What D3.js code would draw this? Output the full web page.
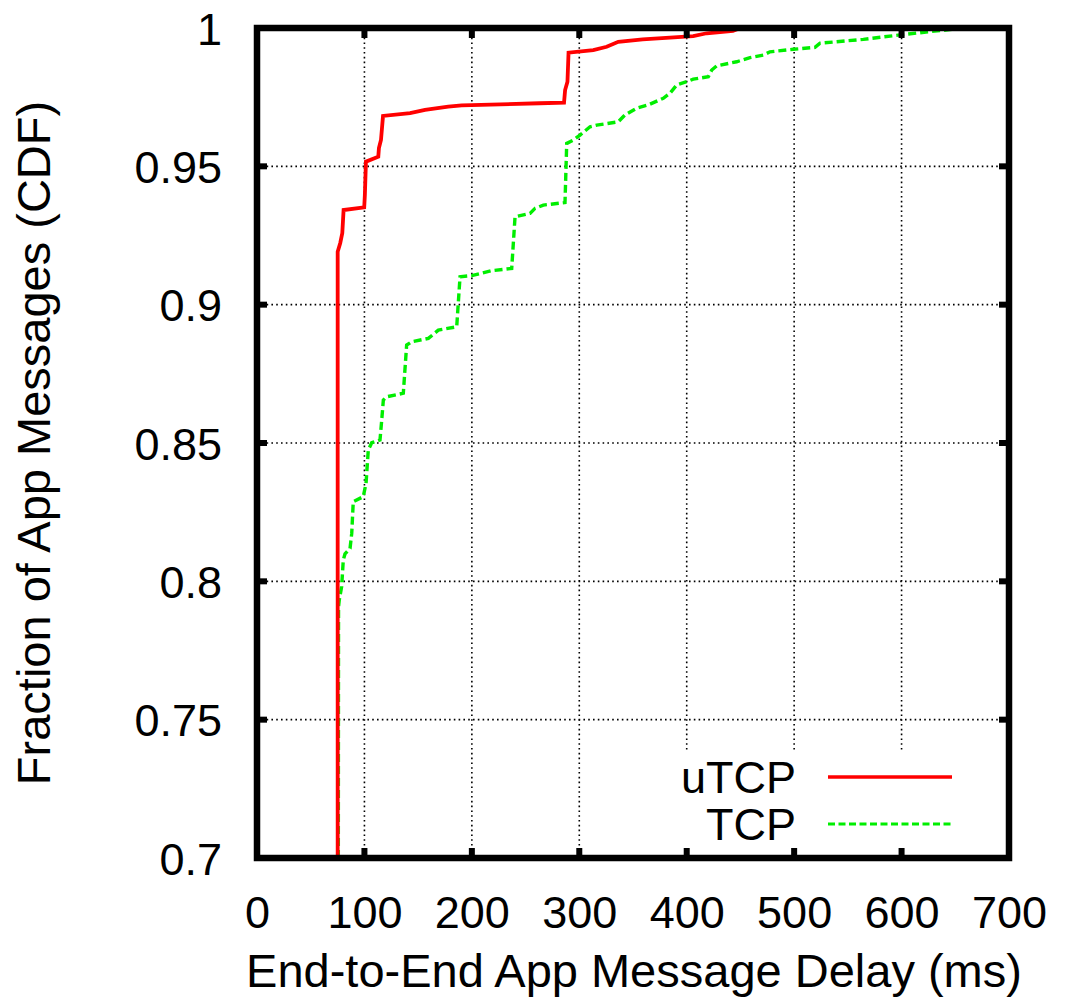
<!DOCTYPE html>
<html><head><meta charset="utf-8">
<script src="https://cdn.jsdelivr.net/npm/d3@7"></script>
<style>html,body{margin:0;padding:0;background:#fff;}svg{display:block;}</style>
</head><body>
<svg id="c" width="1065" height="1007"></svg>
<script>
const xTicks = [0,100,200,300,400,500,600,700];
const yTicks = [0.7,0.75,0.8,0.85,0.9,0.95,1];
const yTickLabels = ["0.7","0.75","0.8","0.85","0.9","0.95","1"];
const seriesNames = ["uTCP","TCP"];
const utcpDelay = [75.1,75.1,77.5,79.4,80.6,99.8,100.4,101.4,112.9,113.5,115.4,117.3,142.5,156.4,178,190.5,263,285.8,286.8,289,290,313,325.5,336.3,359,406,418.6,443,450];
const utcpCdf   = [0.70,0.9191,0.9223,0.9259,0.9342,0.9352,0.9396,0.9517,0.9535,0.9566,0.9595,0.9682,0.9692,0.9704,0.9716,0.9720,0.9728,0.9730,0.9776,0.9806,0.9911,0.9920,0.9932,0.9950,0.9959,0.9971,0.9981,0.9990,1.0];
const tcpDelay = [75.7,75.9,76.6,78.8,80.3,81.9,86.6,88.2,89.6,98.9,101.5,103.6,106.8,114.5,116.1,117.6,120.7,136.2,139.3,144,159.5,168.8,185.9,189,199.9,218.5,237.1,240.2,254.1,258.8,266.5,286.7,288.3,294.4,300.7,310,316.2,336.3,342.6,353.4,364.2,378.2,384.4,390.7,400,406.1,420.1,423.3,427.9,446.5,458.9,471.3,477.5,499.2,519.4,524.1,564.4,598.5,626.5,657.5,663.7];
const tcpCdf   = [0.70,0.7908,0.7933,0.7981,0.8077,0.8099,0.8119,0.8174,0.8288,0.8306,0.8354,0.8475,0.8501,0.8511,0.8583,0.8655,0.8667,0.8680,0.8854,0.8866,0.8878,0.8908,0.8920,0.9101,0.9105,0.9123,0.9131,0.9318,0.9330,0.9348,0.9360,0.9369,0.9583,0.9595,0.9613,0.9643,0.9649,0.9661,0.9686,0.9710,0.9722,0.9746,0.9764,0.9794,0.9806,0.9815,0.9824,0.9848,0.9863,0.9878,0.9893,0.9902,0.9914,0.9923,0.9930,0.9945,0.9959,0.9975,0.9987,0.9999,1.0];

const svg = d3.select("#c");
const L = 257, R = 1009, T = 28, B = 858;
const x = d3.scaleLinear().domain([0,700]).range([L,R]);
const y = d3.scaleLinear().domain([0.7,1]).range([B,T]);
const font = "'Liberation Sans', Arial, Helvetica, sans-serif";
const tickFs = 45, titleFs = 47;

svg.append("defs").append("clipPath").attr("id","clip")
  .append("rect").attr("x",L).attr("y",T).attr("width",R-L).attr("height",B-T);

// grid
const grid = svg.append("g").attr("stroke","#000").attr("stroke-width",1.6).attr("stroke-dasharray","1.6,3.2");
grid.selectAll("line.gx").data(xTicks.slice(1,-1)).join("line")
  .attr("x1",d=>x(d)).attr("x2",d=>x(d)).attr("y1",T).attr("y2",B);
grid.selectAll("line.gy").data(yTicks.slice(1,-1)).join("line")
  .attr("x1",L).attr("x2",R).attr("y1",d=>y(d)).attr("y2",d=>y(d));

// legend background (clears grid)
svg.append("rect").attr("x",672).attr("y",752).attr("width",R-672).attr("height",B-752).attr("fill","#fff");

// curves
const line = d3.line().x(d=>x(d[0])).y(d=>y(d[1]));
const g = svg.append("g").attr("clip-path","url(#clip)");
g.append("path").datum(tcpDelay.map((d,i)=>[d,tcpCdf[i]]))
  .attr("d",line).attr("fill","none").attr("stroke","#00ee00").attr("stroke-width",3.4)
  .attr("stroke-dasharray","8,4").attr("stroke-linejoin","miter");
g.append("path").datum(utcpDelay.map((d,i)=>[d,utcpCdf[i]]))
  .attr("d",line).attr("fill","none").attr("stroke","#ff0000").attr("stroke-width",3.8)
  .attr("stroke-linejoin","miter");

// axes (tick labels)
const xAxis = d3.axisBottom(x).tickValues(xTicks).tickSize(0).tickPadding(0).tickFormat(d3.format("d"));
const gx = svg.append("g").attr("transform",`translate(0,${B})`).call(xAxis);
gx.select(".domain").remove();
gx.selectAll("text").attr("font-family",font).attr("font-size",tickFs).attr("fill","#000")
  .attr("dy",null).attr("y",70);

const yAxis = d3.axisLeft(y).tickValues(yTicks).tickSize(0).tickPadding(0).tickFormat((d,i)=>yTickLabels[i]);
const gy = svg.append("g").attr("transform",`translate(${L},0)`).call(yAxis);
gy.select(".domain").remove();
gy.selectAll("text").attr("font-family",font).attr("font-size",tickFs).attr("fill","#000")
  .attr("x",-35).attr("dy","0.36em");

// tick marks (mirrored)
const tk = svg.append("g").attr("stroke","#000").attr("stroke-width",6);
tk.selectAll("line.b").data(xTicks).join("line").attr("x1",d=>x(d)).attr("x2",d=>x(d)).attr("y1",B).attr("y2",B-10);
tk.selectAll("line.t").data(xTicks).join("line").attr("x1",d=>x(d)).attr("x2",d=>x(d)).attr("y1",T).attr("y2",T+10);
tk.selectAll("line.l").data(yTicks).join("line").attr("y1",d=>y(d)).attr("y2",d=>y(d)).attr("x1",L).attr("x2",L+10);
tk.selectAll("line.r").data(yTicks).join("line").attr("y1",d=>y(d)).attr("y2",d=>y(d)).attr("x1",R).attr("x2",R-10);

// frame
svg.append("rect").attr("x",L).attr("y",T).attr("width",R-L).attr("height",B-T)
  .attr("fill","none").attr("stroke","#000").attr("stroke-width",6.5);

// titles
svg.append("text").attr("x",634).attr("y",987).attr("text-anchor","middle")
  .attr("font-family",font).attr("font-size",titleFs).text("End-to-End App Message Delay (ms)");
svg.append("text").attr("transform","translate(50,443) rotate(-90)").attr("text-anchor","middle")
  .attr("font-family",font).attr("font-size",titleFs).text("Fraction of App Messages (CDF)");

// legend
const legY = [777, 824];
const legColors = ["#ff0000","#00ee00"];
const leg = svg.append("g");
seriesNames.forEach((n,i)=>{
  leg.append("text").attr("x",796).attr("y",legY[i]).attr("dy","0.36em").attr("text-anchor","end")
    .attr("font-family",font).attr("font-size",tickFs).text(n);
  leg.append("line").attr("x1",828).attr("x2",952).attr("y1",legY[i]).attr("y2",legY[i])
    .attr("stroke",legColors[i]).attr("stroke-width",i===0?3.6:3.2)
    .attr("stroke-dasharray",i===0?null:"7,3.5");
});
</script>
</body></html>
